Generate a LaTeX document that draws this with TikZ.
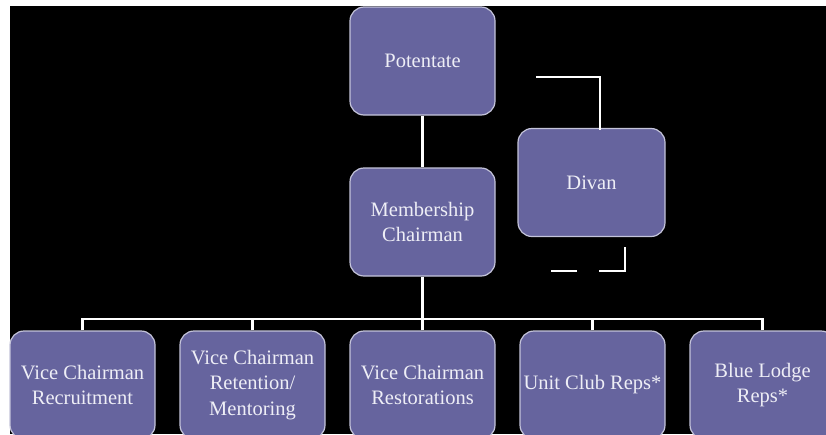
\documentclass[tikz,border=0pt]{standalone}
\usepackage{fontspec}
\setmainfont{Liberation Serif}
\definecolor{boxfill}{RGB}{102,100,158}
\definecolor{boxline}{RGB}{196,196,218}
\definecolor{boxtext}{RGB}{238,238,246}
\begin{document}
\begin{tikzpicture}[x=1pt,y=-1pt,
  box/.style={draw=boxline, line width=1.2pt, fill=boxfill, rounded corners=14pt,
    minimum width=145pt, minimum height=108pt, align=center, text=boxtext,
    font=\fontsize{20.5}{25.5}\selectfont, inner sep=0pt},
  link/.style={draw=white, line width=2.6pt}]
\useasboundingbox (0,0) rectangle (826,434);
\fill[white] (0,0) rectangle (826,434);
\fill[black] (10,6) rectangle (826,434);
\clip (0,0) rectangle (826,434);

\coordinate (bus) at (422.5,319);
\coordinate (dvtopA) at (536,77);
\coordinate (dvtopB) at (600,77);
\coordinate (dvtopC) at (600,130);
\coordinate (dvbotA) at (625,247);
\coordinate (dvbotB) at (625,271);
\coordinate (dvbotC) at (599,271);
\coordinate (dvbotD) at (577,271);
\coordinate (dvbotE) at (551,271);

\node[box] (pot) at (422.5,61) {Potentate};
\node[box] (mem) at (422.5,222) {Membership\\Chairman};
\node[box, minimum width=147pt] (div) at (591.5,182.5) {Divan};

\node[box] (b1) at (82.5,385) {Vice Chairman\\Recruitment};
\node[box] (b2) at (252.5,385) {Vice Chairman\\Retention/\\Mentoring};
\node[box] (b3) at (422.5,385) {Vice Chairman\\Restorations};
\node[box] (b4) at (592.5,385) {Unit Club Reps*};
\node[box] (b5) at (762.5,385) {Blue Lodge\\Reps*};

\draw[link] (pot.south) -- (mem.north);
\draw[link] (mem.south) -- (bus);
\draw[link] (b1.north) |- (bus);
\draw[link] (b2.north) |- (bus);
\draw[link] (b3.north) -- (bus);
\draw[link] (b4.north) |- (bus);
\draw[link] (b5.north) |- (bus);

\draw[link] (dvtopA) -- (dvtopB) -- (dvtopC);
\draw[link] (dvbotA) -- (dvbotB) -- (dvbotC);
\draw[link] (dvbotD) -- (dvbotE);
\end{tikzpicture}
\end{document}
